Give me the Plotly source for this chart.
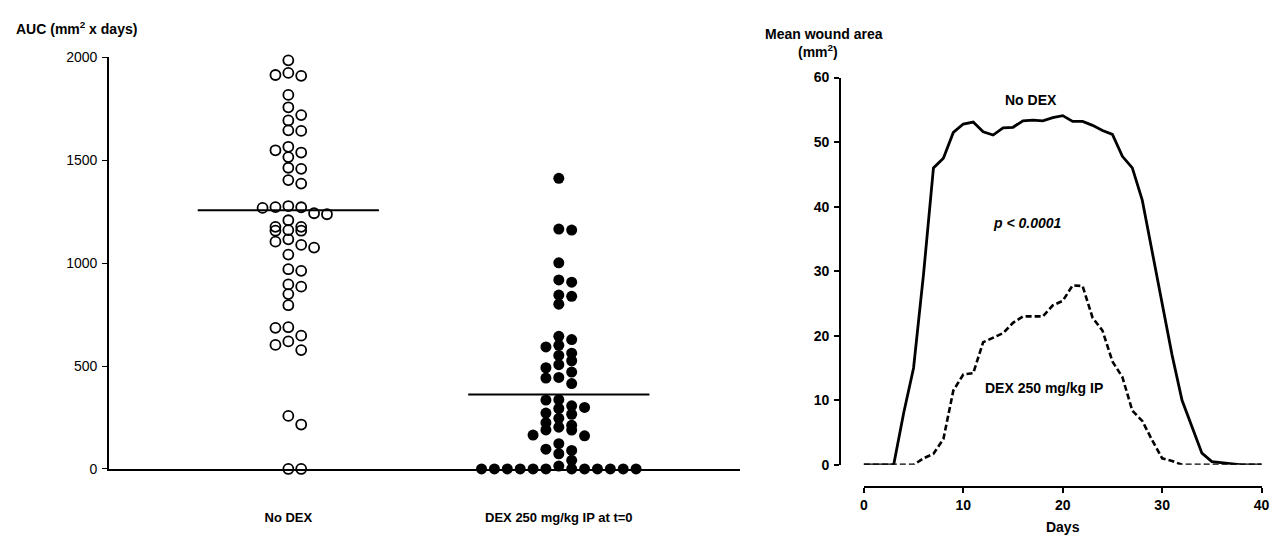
import numpy as np
import plotly.graph_objects as go

# ---------------- data ----------------
groups = ["No DEX", "DEX 250 mg/kg IP at t=0"]

auc_no_dex = [1986, 1925, 1915, 1911, 1818, 1758, 1720, 1694, 1646, 1643,
              1566, 1549, 1538, 1516, 1464, 1459, 1404, 1387, 1278, 1273,
              1272, 1269, 1243, 1238, 1209, 1177, 1177, 1161, 1158, 1158,
              1116, 1105, 1089, 1076, 1042, 971, 963, 897, 886, 850,
              796, 689, 686, 648, 620, 603, 578, 258, 216, 0, 0]

auc_dex = [1413, 1166, 1161, 1002, 919, 908, 845, 839, 801, 645,
           629, 601, 593, 563, 552, 526, 507, 492, 471, 445,
           442, 415, 337, 335, 307, 299, 294, 272, 266, 246,
           225, 212, 203, 190, 189, 165, 161, 123, 96, 90,
           74, 42, 14, 0, 0, 0, 0, 0, 0, 0, 0, 0, 0, 0, 0]

group_bar = [1258, 362]          # horizontal bar drawn through each group

days = list(range(0, 41))
area_no_dex = [0, 0, 0, 0, 8, 15, 29.5, 46, 47.5, 51.5,
               52.8, 53.1, 51.6, 51.1, 52.2, 52.3, 53.3, 53.4, 53.3, 53.8,
               54.1, 53.2, 53.2, 52.6, 51.8, 51.2, 47.8, 46, 41, 33,
               25, 17, 10, 6, 1.8, 0.5, 0.3, 0.1, 0, 0, 0]
area_dex = [0, 0, 0, 0, 0, 0, 1.0, 1.7, 4.0, 11.5,
            14, 14.2, 19, 19.7, 20.4, 22, 23, 23, 23, 24.7,
            25.4, 27.8, 27.7, 22.8, 20.8, 16, 13.6, 8.4, 6.8, 3.8,
            1.0, 0.6, 0, 0, 0, 0, 0, 0, 0, 0, 0]

auc_ticks = [0, 500, 1000, 1500, 2000]
area_ticks = [0, 10, 20, 30, 40, 50, 60]
day_ticks = [0, 10, 20, 30, 40]

# ---------------- geometry ----------------
W, H = 1278, 542
FONT = "Arial, Liberation Sans, sans-serif"

# left panel: pixel box of the axes
LX0, LX1 = 106, 743
LY_BOT, LY_TOP = 475, 51
L_XRANGE = [-0.663, 1.670]
L_YRANGE = [0, 2000]

# right panel
RX0, RX1 = 845, 1272            # y-axis sits at RX0, data start a little to the right
DAY0_PX, DAY40_PX = 868, 1269.5
RY_BOT, RY_TOP = 470.7, 71.7
DAYS_AXIS_PX = 493.3            # offset x-axis below the curves
px_per_day = (DAY40_PX - DAY0_PX) / 40.0
R_XRANGE = [-(DAY0_PX - RX0) / px_per_day, 40 + (RX1 - DAY40_PX) / px_per_day]


def fx(px):
    return px / W


def fy(px):
    return (H - px) / H


# scatter spread: points close in value are laid out side by side
SLOT_PX = 13.0
ROW_PX = 9.0
x_px_per_unit = (LX1 - LX0) / (L_XRANGE[1] - L_XRANGE[0])
y_px_per_unit = (LY_BOT - LY_TOP) / (L_YRANGE[1] - L_YRANGE[0])


def swarm_offsets(values):
    vals = np.asarray(values, dtype=float)
    order = np.argsort(-vals, kind="stable")
    rows, current, top = [], [], None
    for i in order:
        if top is None or (top - vals[i]) * y_px_per_unit > ROW_PX:
            if current:
                rows.append(current)
            current, top = [i], vals[i]
        else:
            current.append(i)
    if current:
        rows.append(current)
    offs = np.zeros(len(vals))
    for row in rows:
        n = len(row)
        if n % 2:
            slots = list(range(-(n // 2), n // 2 + 1))
        else:
            slots = list(range(-(n // 2 - 1), n // 2 + 1))
        slots.sort(key=lambda s: (abs(s), s))
        for i, s in zip(row, slots):
            offs[i] = s
    return offs * SLOT_PX / x_px_per_unit


fig = go.Figure()

# ---- left: AUC per animal ----
fig.add_trace(go.Scatter(
    x=0 + swarm_offsets(auc_no_dex), y=auc_no_dex, mode="markers",
    marker=dict(symbol="circle-open", size=10, color="black",
                line=dict(color="black", width=1.8)),
    cliponaxis=False, showlegend=False, hoverinfo="y"))
fig.add_trace(go.Scatter(
    x=1 + swarm_offsets(auc_dex), y=auc_dex, mode="markers",
    marker=dict(symbol="circle", size=11, color="black"),
    cliponaxis=False, showlegend=False, hoverinfo="y"))

half_bar = 0.335
for g, val in enumerate(group_bar):
    fig.add_trace(go.Scatter(
        x=[g - half_bar, g + half_bar], y=[val, val], mode="lines",
        line=dict(color="black", width=2), showlegend=False, hoverinfo="skip"))

# ---- right: mean wound area over time ----
fig.add_trace(go.Scatter(
    x=days, y=area_no_dex, mode="lines", xaxis="x2", yaxis="y2",
    line=dict(color="black", width=2.8), showlegend=False, cliponaxis=False))
fig.add_trace(go.Scatter(
    x=days, y=area_dex, mode="lines", xaxis="x2", yaxis="y2",
    line=dict(color="black", width=2.6, dash="6px,3px"),
    showlegend=False, cliponaxis=False))
# carrier for the offset "Days" axis
fig.add_trace(go.Scatter(
    x=[0, 40], y=[None, None], mode="lines", xaxis="x3", yaxis="y2",
    showlegend=False, hoverinfo="skip"))

tick_font = dict(family=FONT, size=14, color="black")
bold_font = dict(family=FONT, size=14, color="black", weight="bold")
cat_font = dict(family=FONT, size=13, color="black", weight="bold")

fig.update_layout(
    width=W, height=H,
    margin=dict(l=0, r=0, t=0, b=0),
    paper_bgcolor="white", plot_bgcolor="rgba(0,0,0,0)",
    font=dict(family=FONT, color="black"),
    xaxis=dict(
        domain=[fx(LX0), fx(LX1)], range=L_XRANGE, anchor="y",
        showgrid=False, zeroline=False,
        showline=True, linecolor="black", linewidth=2,
        tickmode="array", tickvals=[0, 1], ticktext=groups,
        ticks="", tickfont=cat_font, ticklabelstandoff=35),
    yaxis=dict(
        domain=[fy(LY_BOT), fy(LY_TOP)], range=L_YRANGE, anchor="x",
        showgrid=False, zeroline=False,
        showline=True, linecolor="black", linewidth=1.6,
        tickmode="array", tickvals=auc_ticks,
        ticks="outside", ticklen=5, tickwidth=1.4, tickcolor="black",
        tickfont=tick_font, ticklabelstandoff=2),
    xaxis2=dict(
        domain=[fx(RX0), fx(RX1)], range=R_XRANGE, anchor="y2",
        showgrid=False, zeroline=False, showline=False,
        showticklabels=False, ticks=""),
    yaxis2=dict(
        domain=[fy(RY_BOT), fy(RY_TOP)], range=[0, 60], anchor="x2",
        showgrid=False, zeroline=False,
        showline=True, linecolor="black", linewidth=2,
        tickmode="array", tickvals=area_ticks,
        ticks="outside", ticklen=5, tickwidth=1.6, tickcolor="black",
        tickfont=bold_font, ticklabelstandoff=2),
    xaxis3=dict(
        domain=[fx(DAY0_PX), fx(DAY40_PX)], range=[0, 40],
        anchor="free", position=fy(DAYS_AXIS_PX),
        showgrid=False, zeroline=False,
        showline=True, linecolor="black", linewidth=2,
        tickmode="array", tickvals=day_ticks,
        ticks="outside", ticklen=5, tickwidth=1.6, tickcolor="black",
        tickfont=bold_font,
        title=dict(text="Days", font=bold_font, standoff=10)),
)

fig.add_annotation(x=fx(10), y=fy(21), xref="paper", yref="paper",
                   xanchor="left", yanchor="middle", showarrow=False,
                   text="<b>AUC (mm<sup>2</sup> x days)</b>", font=bold_font)
fig.add_annotation(x=fx(828), y=fy(27), xref="paper", yref="paper",
                   xanchor="center", yanchor="middle", showarrow=False,
                   text="<b>Mean wound area</b>", font=bold_font)
fig.add_annotation(x=fx(822), y=fy(44), xref="paper", yref="paper",
                   xanchor="center", yanchor="middle", showarrow=False,
                   text="<b>(mm<sup>2</sup>)</b>", font=bold_font)

fig.add_annotation(x=16.8, y=56.5, xref="x2", yref="y2", showarrow=False,
                   text="<b>No DEX</b>", font=bold_font)
fig.add_annotation(x=16.5, y=37.5, xref="x2", yref="y2", showarrow=False,
                   text="<b><i>p &lt; 0.0001</i></b>", font=bold_font)
fig.add_annotation(x=18.1, y=11.9, xref="x2", yref="y2", showarrow=False,
                   text="<b>DEX 250 mg/kg IP</b>", font=bold_font)

fig.write_html("out.html")
